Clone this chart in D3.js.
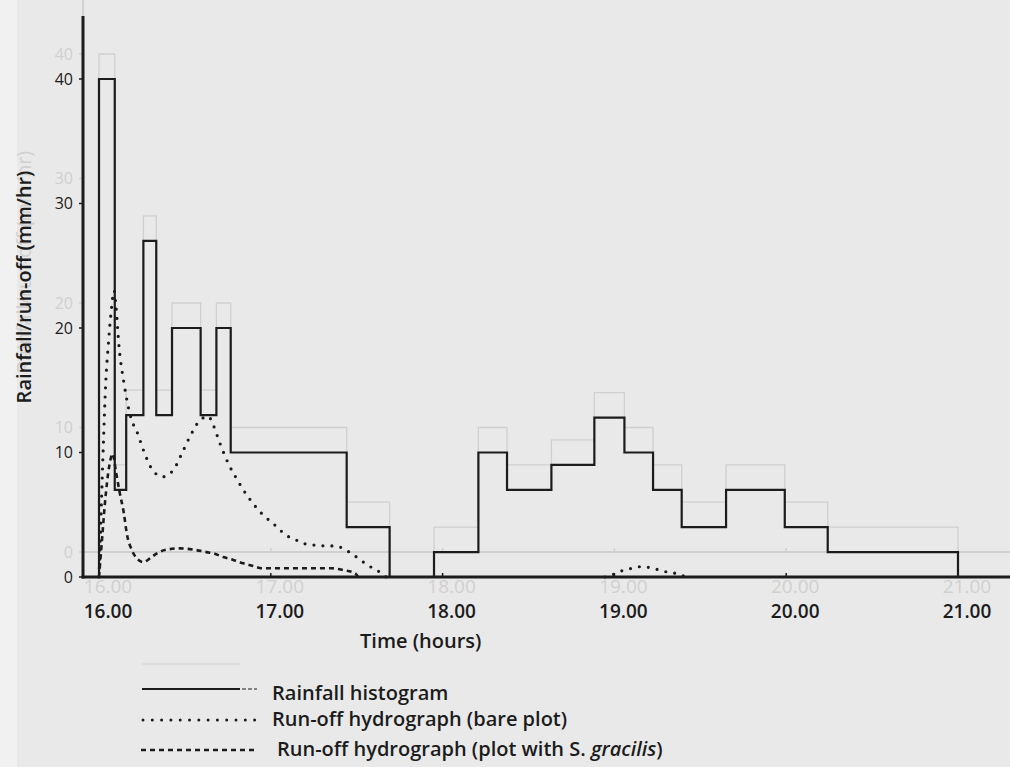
<!DOCTYPE html>
<html>
<head>
<meta charset="utf-8">
<script src="https://cdn.jsdelivr.net/npm/d3@7"></script>
<style>
body { margin: 0; background: #e9e9e9; }
svg { display: block; }
text { font-family: "Open Sans", Lato, sans-serif; }
</style>
</head>
<body>
<script>
const width = 1010,
	  height = 767;

// time is minutes after 16.00
var hourTicks = [0, 60, 120, 180, 240, 300];
var hourLabels = ["16.00", "17.00", "18.00", "19.00", "20.00", "21.00"];
var yTicks = [0, 10, 20, 30, 40];

// rainfall histogram: block edges and intensity in each block (mm/hr)
var rainEdges = [0, 5.5, 9.5, 15.5, 20, 25.5, 35.5, 41, 46, 86.5, 101.5, 117, 132.5, 142.5, 158, 173, 183.5, 193.5, 203.5, 219, 239.5, 254.5, 300];
var rainValues = [40, 7, 13, 27, 13, 20, 13, 20, 10, 4, 0, 2, 10, 7, 9, 12.8, 10, 7, 4, 7, 4, 2];

// run-off, bare plot (two events)
var bareTime = [0, 0.35, 0.9, 1.5, 2.4, 3.2, 4.2, 5.3, 5.9, 7.0, 8.7, 11.4, 13.2, 15.5, 18.4, 22.2, 26, 28.9, 31.8, 35.3, 38.2, 39.9, 42.3, 45.2, 48.3, 50.4, 52.5, 56.8, 59.7, 62.3, 65, 68.2, 71.4, 74.9, 78.6, 81.8, 85.3, 88.3, 90.9, 93.5, 96.2, 98.7, 100.2];
var bareFlow = [0, 2.4, 6.4, 10.5, 15.8, 18.5, 21.2, 23, 21.8, 18.5, 15.6, 12.6, 11.7, 10.2, 8.7, 8.05, 8.6, 9.9, 11.3, 12.6, 12.9, 12.2, 10.7, 9.1, 7.8, 7.0, 6.3, 5.1, 4.5, 4.0, 3.4, 3.05, 2.7, 2.57, 2.5, 2.5, 2.3, 1.85, 1.45, 1.0, 0.64, 0.3, 0];
var bareTime2 = [176.7, 179.1, 182.6, 186.1, 189.2, 192.5, 195.7, 198.8, 201.2, 203.9, 204.7];
var bareFlow2 = [0, 0.16, 0.5, 0.7, 0.83, 0.75, 0.56, 0.38, 0.3, 0.1, 0];

// run-off, plot with S. gracilis
var gracTime = [0, 1.05, 2.1, 3.5, 4.8, 5.9, 7.3, 8.7, 9.7, 11.4, 13.2, 15.5, 17.8, 20.2, 23.6, 28.3, 32.9, 37.6, 39.9, 43.4, 46.9, 50.4, 53.9, 56.8, 63.2, 70.2, 81.3, 85.3, 89.4, 90.5];
var gracFlow = [0, 3, 6, 8.8, 9.9, 8.5, 6.7, 5.1, 3.5, 2.2, 1.5, 1.2, 1.5, 1.9, 2.2, 2.3, 2.2, 2.0, 1.9, 1.6, 1.37, 1.1, 0.88, 0.7, 0.7, 0.7, 0.7, 0.56, 0.3, 0];

var x = d3.scaleLinear().domain([0, 300]).range([99, 958]);
var y = d3.scaleLinear().domain([0, 40]).range([577, 79]);
var axisX = 83;

var svg = d3.select("body").append("svg")
	.attr("width", width)
	.attr("height", height);

svg.append("rect").attr("width", width).attr("height", height).attr("fill", "#e9e9e9");
svg.append("rect").attr("width", 17).attr("height", height).attr("fill", "#f1f1f1");

var stepPoints = [[rainEdges[0], 0]];
rainValues.forEach(function (v, i) {
	stepPoints.push([rainEdges[i], v]);
	stepPoints.push([rainEdges[i + 1], v]);
});
stepPoints.push([rainEdges[rainEdges.length - 1], 0]);

var straight = d3.line().x(d => x(d[0])).y(d => y(d[1]));
var smooth = d3.line().x(d => x(d[0])).y(d => y(d[1])).curve(d3.curveMonotoneX);

var bare1 = bareTime.map((t, i) => [t, bareFlow[i]]);
var bare2 = bareTime2.map((t, i) => [t, bareFlow2[i]]);
var grac = gracTime.map((t, i) => [t, gracFlow[i]]);

function drawLayer(g, ink, ghost) {
	var w = ghost ? 0.6 : 1;
	var bold = ghost ? "normal" : 600;

	// axes
	g.append("line")
		.attr("x1", axisX).attr("x2", axisX)
		.attr("y1", 16).attr("y2", y(0) + 1.5)
		.attr("stroke", ink).attr("stroke-width", 3 * w);
	g.append("line")
		.attr("x1", axisX - 1.5).attr("x2", width)
		.attr("y1", y(0)).attr("y2", y(0))
		.attr("stroke", ink).attr("stroke-width", 3 * w);

	g.selectAll(".ytick").data(yTicks).enter().append("line")
		.attr("x1", axisX - 4).attr("x2", axisX)
		.attr("y1", d => y(d)).attr("y2", d => y(d))
		.attr("stroke", ink).attr("stroke-width", 1.5);
	g.selectAll(".ylab").data(yTicks).enter().append("text")
		.attr("x", 73).attr("y", d => y(d)).attr("dy", "0.36em")
		.attr("text-anchor", "end")
		.attr("font-size", 16).attr("fill", ink)
		.text(d => d);

	g.selectAll(".xtick").data(hourTicks).enter().append("line")
		.attr("x1", d => x(d)).attr("x2", d => x(d))
		.attr("y1", y(0) - 4).attr("y2", y(0))
		.attr("stroke", ink).attr("stroke-width", 1.5);
	g.selectAll(".xlab").data(hourTicks).enter().append("text")
		.attr("x", d => x(d) + 9).attr("y", 618)
		.attr("text-anchor", "middle")
		.attr("font-size", 19).attr("font-weight", bold).attr("fill", ink)
		.text((d, i) => hourLabels[i]);

	g.append("text")
		.attr("transform", "translate(31,287) rotate(-90)")
		.attr("text-anchor", "middle")
		.attr("font-size", 20).attr("font-weight", bold).attr("fill", ink)
		.text("Rainfall/run-off (mm/hr)");

	// rainfall histogram
	g.append("path")
		.attr("d", straight(stepPoints))
		.attr("fill", "none").attr("stroke", ink).attr("stroke-width", 2.2 * w);

	var legY = [689, 720, 750];
	g.append("line")
		.attr("x1", 142).attr("x2", 240).attr("y1", legY[0]).attr("y2", legY[0])
		.attr("stroke", ink).attr("stroke-width", 2 * w);

	if (ghost) return;

	// run-off hydrographs
	[bare1, bare2].forEach(function (s) {
		g.append("path")
			.attr("d", smooth(s))
			.attr("fill", "none").attr("stroke", ink)
			.attr("stroke-width", 3.2).attr("stroke-linecap", "round")
			.attr("stroke-dasharray", "0 9");
	});
	g.append("path")
		.attr("d", smooth(grac))
		.attr("fill", "none").attr("stroke", ink)
		.attr("stroke-width", 2.6)
		.attr("stroke-dasharray", "5 4");

	g.append("text")
		.attr("x", 360).attr("y", 648)
		.attr("font-size", 20).attr("font-weight", bold).attr("fill", ink)
		.text("Time (hours)");

	// legend
	g.append("line")
		.attr("x1", 242).attr("x2", 257).attr("y1", legY[0]).attr("y2", legY[0])
		.attr("stroke", ink).attr("stroke-width", 1.2).attr("stroke-dasharray", "4 2");
	g.append("line")
		.attr("x1", 143).attr("x2", 258).attr("y1", legY[1]).attr("y2", legY[1])
		.attr("stroke", ink).attr("stroke-width", 3).attr("stroke-linecap", "round")
		.attr("stroke-dasharray", "0 9.3");
	g.append("line")
		.attr("x1", 141).attr("x2", 258).attr("y1", legY[2]).attr("y2", legY[2])
		.attr("stroke", ink).attr("stroke-width", 2.4)
		.attr("stroke-dasharray", "5 4");

	g.append("text").attr("x", 272).attr("y", legY[0] + 11)
		.attr("font-size", 20).attr("font-weight", bold).attr("fill", ink)
		.text("Rainfall histogram");
	g.append("text").attr("x", 272).attr("y", legY[1] + 6)
		.attr("font-size", 20).attr("font-weight", bold).attr("fill", ink)
		.text("Run-off hydrograph (bare plot)");
	var t3 = g.append("text").attr("x", 277).attr("y", legY[2] + 6)
		.attr("font-size", 20).attr("font-weight", bold).attr("fill", ink);
	t3.append("tspan").text("Run-off hydrograph (plot with S. ");
	t3.append("tspan").attr("font-style", "italic").text("gracilis");
	t3.append("tspan").text(")");
}

// faint show-through of the facing page, then the figure itself
drawLayer(svg.append("g").attr("transform", "translate(0,-25)"), "#d0d0d0", true);
drawLayer(svg.append("g"), "#1c1c1c", false);
</script>
</body>
</html>
